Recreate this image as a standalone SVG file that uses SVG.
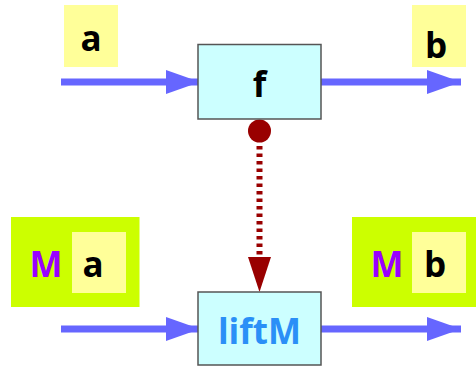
<svg xmlns="http://www.w3.org/2000/svg" width="476" height="366" viewBox="0 0 476 366">
  <defs>
    <marker id="arrowBlue" markerUnits="userSpaceOnUse" markerWidth="34" markerHeight="24" refX="34" refY="12" orient="auto">
      <path d="M0,0 L34,12 L0,24 Z" fill="#6666ff"/>
    </marker>
  </defs>
  <style>
    .val { fill: #ffff99; }
    .monad { fill: #ccff00; }
    .fn { fill: #ccffff; stroke: #555555; stroke-width: 1.5; }
    .lbl { font-family: "Open Sans", "Noto Sans", "DejaVu Sans", sans-serif; font-weight: bold; font-size: 35px; text-anchor: middle; }
    .blk { fill: #000000; }
    .mon { fill: #9900ff; }
    .lift { fill: #2a8ff7; }
    .flow { stroke: #6666ff; stroke-width: 7; fill: none; marker-end: url(#arrowBlue); }
    .lifting { stroke: #990000; stroke-width: 6; stroke-dasharray: 3.5 4; fill: none; }
  </style>

  <!-- connectors -->
  <g id="connectors">
    <line class="flow" x1="61" y1="82" x2="200" y2="82"/>
    <line class="flow" x1="321" y1="82" x2="461" y2="82"/>
    <line class="flow" x1="61" y1="329" x2="200" y2="329"/>
    <line class="flow" x1="321" y1="329" x2="461" y2="329"/>
    <line class="lifting" x1="259.5" y1="131" x2="259.5" y2="258"/>
    <circle cx="259.5" cy="131" r="11.5" fill="#990000"/>
    <path d="M248,257 L271,257 L259.5,292 Z" fill="#990000"/>
  </g>

  <!-- plain values -->
  <g id="val-a">
    <rect class="val" x="64" y="5" width="54" height="62"/>
    <text class="lbl blk" x="91" y="51">a</text>
  </g>
  <g id="val-b">
    <rect class="val" x="412" y="5" width="54" height="62"/>
    <text class="lbl blk" x="436" y="58">b</text>
  </g>

  <!-- function f -->
  <g id="fn-f">
    <rect class="fn" x="198" y="44.5" width="123" height="74.5"/>
    <text class="lbl blk" x="259.5" y="97">f</text>
  </g>

  <!-- monadic values -->
  <g id="monad-a">
    <rect class="monad" x="11" y="217" width="128.5" height="90"/>
    <rect class="val" x="72" y="232" width="54" height="61"/>
    <text class="lbl mon" x="46" y="277">M</text>
    <text class="lbl blk" x="93" y="277">a</text>
  </g>
  <g id="monad-b">
    <rect class="monad" x="352" y="217" width="124" height="90"/>
    <rect class="val" x="412" y="232" width="54" height="61"/>
    <text class="lbl mon" x="387" y="277">M</text>
    <text class="lbl blk" x="435" y="277">b</text>
  </g>

  <!-- lifted function -->
  <g id="fn-liftM">
    <rect class="fn" x="198" y="292" width="123" height="73"/>
    <text class="lbl lift" x="259.5" y="344">liftM</text>
  </g>
</svg>
